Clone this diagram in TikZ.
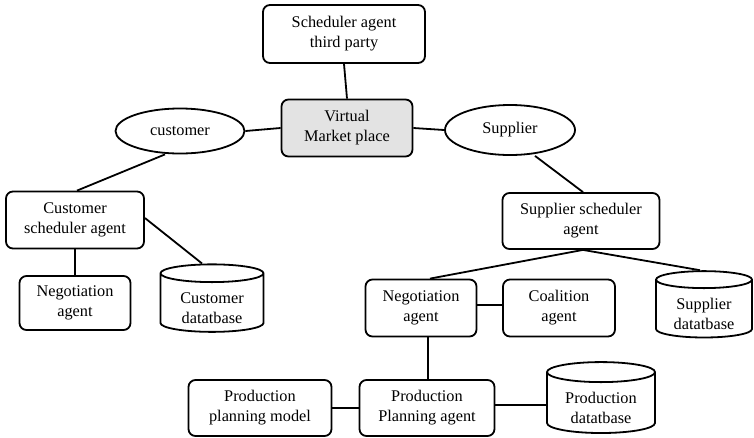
\documentclass[tikz,border=0pt]{standalone}
\usepackage{fontspec}
\setmainfont{Liberation Serif}
\usetikzlibrary{shapes.geometric}
% two-line database caption, drawn a little below the middle of the cylinder
\newcommand\dbcaption[2]{\raisebox{-6pt}[\height][\depth]{\begin{tabular}{@{}c@{}}#1\\#2\end{tabular}}}
\begin{document}
\begin{tikzpicture}[x=1pt,y=-1pt,
  every node/.style={font=\fontsize{16.3}{20}\selectfont, align=center, line width=1.8pt},
  agent/.style={draw, rounded corners=7pt, inner sep=0pt},
  role/.style={draw, ellipse, inner sep=0pt},
  store/.style={draw, cylinder, shape border rotate=90, aspect=0.28, inner sep=0pt},
  link/.style={line width=1.8pt}]
\useasboundingbox (0,0) rectangle (754,437);

% top level
\node[agent, minimum width=162pt, minimum height=58pt] (sat) at (344,34) {Scheduler agent\\third party};
\node[agent, fill=gray!22, minimum width=131pt, minimum height=57pt] (vmp) at (347,128) {Virtual\\Market place};
\node[role, minimum width=129pt, minimum height=45pt] (cust) at (180,131) {customer};
\node[role, minimum width=130pt, minimum height=50pt] (supp) at (510,130) {Supplier};

% customer side
\node[agent, minimum width=138pt, minimum height=57pt] (csa) at (75,220) {Customer\\scheduler agent};
\node[agent, minimum width=111pt, minimum height=54pt] (nal) at (75,303) {Negotiation\\agent};
\node[store, minimum width=103pt, minimum height=67pt] (cdb) at (212,303) {\dbcaption{Customer}{datatbase}};

% supplier side
\node[agent, minimum width=157pt, minimum height=56pt] (ssa) at (581,221) {Supplier scheduler\\agent};
\node[agent, minimum width=111pt, minimum height=57pt] (nar) at (421,308) {Negotiation\\agent};
\node[agent, minimum width=112pt, minimum height=57pt] (coa) at (559,308) {Coalition\\agent};
\node[store, minimum width=96pt, minimum height=64pt] (sdb) at (704,309) {\dbcaption{Supplier}{datatbase}};

% production
\node[agent, minimum width=135pt, minimum height=56pt] (ppa) at (427,408) {Production\\Planning agent};
\node[agent, minimum width=143pt, minimum height=56pt] (ppm) at (260,408) {Production\\planning model};
\node[store, minimum width=108pt, minimum height=66pt] (pdb) at (601,403) {\dbcaption{Production}{datatbase}};

% connectors (shifts are in page units: positive yshift points up)
\draw[link] (sat.south) -- (vmp.north);
\draw[link] (cust.east) -- (vmp.west);
\draw[link] (vmp.east) -- (supp.west);
\draw[link] ([xshift=-15pt]cust.south) -- ([xshift=2pt]csa.north);
\draw[link] (csa.south) -- (nal.north);
\draw[link] ([yshift=2pt]csa.east) -- ([xshift=-10pt]cdb.north);
\draw[link] ([xshift=25pt]supp.south) -- ([xshift=2pt]ssa.north);
\draw[link] ([xshift=2pt]ssa.south) -- ([xshift=9pt]nar.north);
\draw[link] ([xshift=2pt]ssa.south) -- ([xshift=-4pt]sdb.north);
\draw[link] ([yshift=3pt]nar.east) -- ([yshift=3pt]coa.west);
\draw[link] ([xshift=7pt]nar.south) -- ([xshift=1pt]ppa.north);
\draw[link] (ppm.east) -- (ppa.west);
\coordinate (ppaout) at ([yshift=3pt]ppa.east);
\draw[link] (ppaout) -- (ppaout -| pdb.west);
\end{tikzpicture}
\end{document}
